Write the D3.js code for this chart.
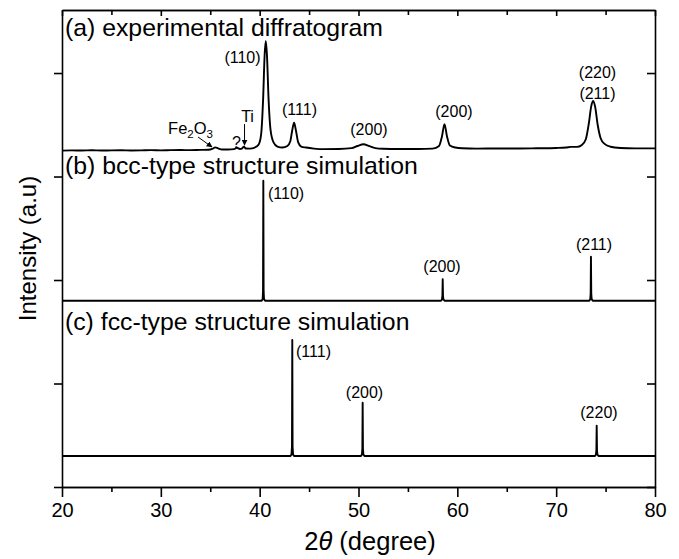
<!DOCTYPE html>
<html>
<head>
<meta charset="utf-8">
<script src="https://cdn.jsdelivr.net/npm/d3@7"></script>
<style>
  html, body { margin: 0; padding: 0; background: #fff; }
  svg { display: block; font-family: "Liberation Sans", Arial, sans-serif; }
</style>
</head>
<body>
<svg id="chart" width="679" height="559"></svg>
<script>
// ---------- data ----------
const xTicks = [20, 30, 40, 50, 60, 70, 80];
const xMinorTicks = [25, 35, 45, 55, 65, 75];
const yTicks = [0, 100, 200, 300, 400];

// vertical offsets (a.u.) of the three stacked patterns
const offsets = [325, 180, 30];

// (a) experimental diffractogram: [2theta, intensity above baseline]
const expA = [
  [20,0],[21,0.3],[22,0.1],[23,0.4],[24,0.1],[25,0.3],[26,0.4],[27,0.2],[28,0.3],[29,0.5],
  [30,0.3],[31,0.5],[32,0.6],[33,0.5],[34,0.7],[34.8,0.8],[35.2,1.6],[35.5,3.2],[35.8,2.2],
  [36.2,1.1],[36.8,1.1],[37.4,1.5],[37.7,2.8],[38,1.6],[38.2,2],[38.4,3.8],[38.6,2.1],
  [39,2],[39.5,3],[39.9,6],[40.15,16],[40.35,50],[40.5,92],[40.62,106],[40.74,92],[40.9,50],
  [41.1,20],[41.4,8],[41.8,4],[42.3,3],[42.8,4.5],[43.1,9],[43.3,20],[43.48,27],[43.66,20],
  [43.9,8],[44.2,4],[44.7,3],[45.5,2],[46.5,1.5],[48,1.6],[49.3,2.4],[49.9,4.5],[50.5,6.2],
  [51.1,4.3],[51.7,2.4],[52.5,1.8],[54,1.6],[56,1.6],[57.5,2],[58.15,4.5],[58.45,14],
  [58.7,25.5],[58.95,14],[59.25,5],[59.8,3],[60.5,2.3],[62,2],[64,2.1],[66,2.1],[68,2.3],
  [70,2.6],[71,3],[71.5,3.6],[72.1,3.6],[72.6,5.5],[73,11],[73.3,26],[73.55,43],[73.75,48],
  [73.95,42],[74.2,25],[74.5,12],[74.9,6.5],[75.5,3.8],[76.5,2.6],[78,2.2],[80,2.2]
];

// (b) bcc simulation
const simB = [
  [20,0],[40.2,0],[40.3,1.5],[40.34,9],[40.37,116],[40.4,9],[40.44,1.5],[40.55,0],
  [58.35,0],[58.45,1.2],[58.49,5],[58.52,20.7],[58.55,5],[58.59,1.2],[58.7,0],
  [73.35,0],[73.45,1.5],[73.49,7],[73.52,42.5],[73.55,7],[73.59,1.5],[73.7,0],[80,0]
];

// (c) fcc simulation
const simC = [
  [20,0],[43.12,0],[43.22,1.5],[43.27,9],[43.3,112],[43.33,9],[43.38,1.5],[43.48,0],
  [50.25,0],[50.35,1.5],[50.39,7],[50.42,51.5],[50.45,7],[50.49,1.5],[50.6,0],
  [73.93,0],[74.03,1.5],[74.07,6],[74.1,29.3],[74.13,6],[74.17,1.5],[74.28,0],[80,0]
];

const series = [expA, simB, simC];

// panel titles: [text, 2theta, absolute a.u.]
const panelTitles = [
  ["(a) experimental diffratogram", 20.3, 435.7],
  ["(b) bcc-type structure simulation", 20.3, 302.4],
  ["(c) fcc-type structure simulation", 20.3, 151.7]
];

// peak labels: [text, 2theta, absolute a.u., anchor]
const peakLabels = [
  ["(110)", 38.26, 409.7, "middle"],
  ["(111)", 44.03, 359.4, "middle"],
  ["(200)", 51.06, 340.1, "middle"],
  ["(200)", 59.66, 357.5, "middle"],
  ["(220)", 74.18, 395.2, "middle"],
  ["(211)", 74.18, 374.9, "middle"],
  ["Ti",    38.77, 352.7, "middle"],
  ["?",     37.66, 327.5, "middle"],
  ["(110)", 40.84, 278.3, "start"],
  ["(200)", 58.45, 207.7, "middle"],
  ["(211)", 73.83, 229.0, "middle"],
  ["(111)", 43.68, 125.6, "start"],
  ["(200)", 50.61, 86.0,  "middle"],
  ["(220)", 74.33, 66.7,  "middle"]
];
const fe2o3Label = [30.73, 341.5];

// arrows: [x1, y1, x2, y2] in (2theta, a.u.)
const arrows = [
  [33.76, 338.2, 35.18, 328.5],
  [38.47, 350.7, 38.47, 330.4]
];

(function () {
// ---------- layout ----------
const svg = d3.select("#chart");
const W = 679, H = 559;
const margin = {left: 62, right: 24, top: 10, bottom: 72};
const x = d3.scaleLinear().domain([20, 80]).range([margin.left, W - margin.right]);
const y = d3.scaleLinear().domain([0, 460.9]).range([H - margin.bottom, margin.top]);

svg.append("rect").attr("width", W).attr("height", H).attr("fill", "#fff");

// axes
const axW = 1.6;
function styleAxis(g) {
  g.selectAll(".domain").attr("stroke", "#000").attr("stroke-width", axW);
  g.selectAll(".tick line").attr("stroke", "#000").attr("stroke-width", axW);
}
const gBottom = svg.append("g").attr("transform", `translate(0,${y(0)})`)
  .call(d3.axisBottom(x).tickValues(xTicks).tickSize(10).tickSizeOuter(0).tickPadding(6).tickFormat(d3.format("d")));
styleAxis(gBottom);
gBottom.selectAll("text").attr("font-size", 20).attr("fill", "#000").attr("font-family", "Liberation Sans, Arial, sans-serif");
const gBottomMinor = svg.append("g").attr("transform", `translate(0,${y(0)})`)
  .call(d3.axisBottom(x).tickValues(xMinorTicks).tickSize(5).tickSizeOuter(0).tickFormat(""));
styleAxis(gBottomMinor);

const gTop = svg.append("g").attr("transform", `translate(0,${margin.top})`)
  .call(d3.axisTop(x).tickValues(xTicks).tickSize(-6).tickSizeOuter(0).tickFormat(""));
styleAxis(gTop);
const gTopMinor = svg.append("g").attr("transform", `translate(0,${margin.top})`)
  .call(d3.axisTop(x).tickValues(xMinorTicks).tickSize(-5).tickSizeOuter(0).tickFormat(""));
styleAxis(gTopMinor);

const gLeft = svg.append("g").attr("transform", `translate(${margin.left},0)`)
  .call(d3.axisLeft(y).tickValues(yTicks).tickSize(8).tickSizeOuter(0).tickFormat(""));
styleAxis(gLeft);
const gRight = svg.append("g").attr("transform", `translate(${W - margin.right},0)`)
  .call(d3.axisRight(y).tickValues(yTicks).tickSize(-8).tickSizeOuter(0).tickFormat(""));
styleAxis(gRight);

// curves
series.forEach((s, i) => {
  const line = d3.line()
    .x(d => x(d[0]))
    .y(d => y(d[1] + offsets[i]))
    .curve(i === 0 ? d3.curveMonotoneX : d3.curveLinear);
  svg.append("path").datum(s)
    .attr("d", line)
    .attr("fill", "none")
    .attr("stroke", "#000")
    .attr("stroke-width", 1.9)
    .attr("stroke-linejoin", "round");
});

// panel titles
svg.selectAll("text.panel").data(panelTitles).enter().append("text")
  .attr("class", "panel")
  .attr("x", d => x(d[1])).attr("y", d => y(d[2]))
  .attr("font-size", 24.8).attr("fill", "#000")
  .text(d => d[0]);

// peak labels
svg.selectAll("text.peak").data(peakLabels).enter().append("text")
  .attr("class", "peak")
  .attr("x", d => x(d[1])).attr("y", d => y(d[2]))
  .attr("text-anchor", d => d[3])
  .attr("font-size", 16).attr("fill", "#000")
  .text(d => d[0]);

// Fe2O3 label with subscripts
const fe = svg.append("text").attr("x", x(fe2o3Label[0])).attr("y", y(fe2o3Label[1]))
  .attr("font-size", 16.5).attr("fill", "#000");
fe.append("tspan").text("Fe");
fe.append("tspan").attr("font-size", 11.5).attr("dy", 4).text("2");
fe.append("tspan").attr("dy", -4).text("O");
fe.append("tspan").attr("font-size", 11.5).attr("dy", 4).text("3");

// arrows
const defs = svg.append("defs");
defs.append("marker").attr("id", "ah").attr("viewBox", "0 0 10 10")
  .attr("refX", 9).attr("refY", 5).attr("markerWidth", 6).attr("markerHeight", 6)
  .attr("orient", "auto")
  .append("path").attr("d", "M0,0 L10,5 L0,10 z").attr("fill", "#000");
svg.selectAll("line.arrow").data(arrows).enter().append("line")
  .attr("class", "arrow")
  .attr("x1", d => x(d[0])).attr("y1", d => y(d[1]))
  .attr("x2", d => x(d[2])).attr("y2", d => y(d[3]))
  .attr("stroke", "#000").attr("stroke-width", 1)
  .attr("marker-end", "url(#ah)");

// axis titles
const xt = svg.append("text")
  .attr("x", 370).attr("y", 550)
  .attr("text-anchor", "middle").attr("font-size", 25.5).attr("fill", "#000");
xt.append("tspan").text("2");
xt.append("tspan").attr("font-style", "italic").text("θ");
xt.append("tspan").text(" (degree)");

svg.append("text")
  .attr("transform", `translate(36,${(y(0) + margin.top) / 2}) rotate(-90)`)
  .attr("text-anchor", "middle").attr("font-size", 24).attr("fill", "#000")
  .text("Intensity (a.u)");
})();
</script>
</body>
</html>
